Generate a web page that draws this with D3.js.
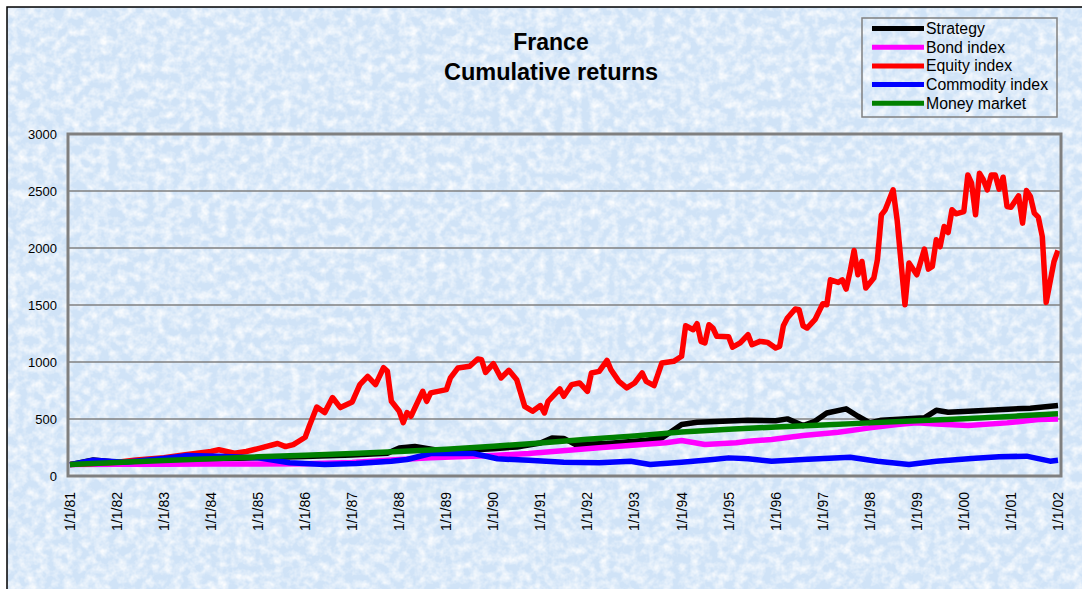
<!DOCTYPE html>
<html>
<head>
<meta charset="utf-8">
<script src="https://cdn.jsdelivr.net/npm/d3@7"></script>
<style>
body { margin: 0; background: #fff; }
svg { display: block; font-family: "Liberation Sans", Arial, sans-serif; }
</style>
</head>
<body>
<script>
width = 1082;
height = 589;
margin = { top: 134, right: 21, bottom: 113, left: 68 }

// series as [month, value]
var strategy = [
    ["1981-01",100],["1981-07",140],["1982-03",115],["1983-01",130],["1984-01",150],
    ["1985-01",160],["1986-01",170],["1987-01",185],["1987-10",200],["1988-01",245],
    ["1988-05",258],["1988-10",230],["1989-06",225],["1990-01",240],["1990-07",255],
    ["1991-01",290],["1991-04",334],["1991-07",330],["1991-10",276],["1992-06",285],
    ["1993-01",305],["1993-04",314],["1993-08",334],["1994-01",451],["1994-05",471],
    ["1995-06",489],["1996-01",485],["1996-04",501],["1996-08",442],["1996-11",480],
    ["1997-02",553],["1997-07",589],["1997-10",524],["1998-01",466],["1998-04",489],
    ["1999-03",510],["1999-06",576],["1999-09",559],["2000-06",575],["2001-06",595],
    ["2002-01",618]
];
var bond = [
    ["1981-01",100],["1982-01",102],["1983-01",104],["1984-01",106],["1985-01",105],
    ["1986-01",108],["1987-01",118],["1988-01",145],["1988-09",159],["1990-01",180],
    ["1990-10",197],["1992-04",247],["1993-09",291],["1994-01",311],["1994-07",276],
    ["1995-03",291],["1995-06",305],["1995-12",320],["1996-08",355],["1997-05",384],
    ["1998-01",422],["1998-08",451],["1999-01",466],["1999-06",457],["2000-02",442],
    ["2000-12",466],["2001-08",495],["2002-01",501]
];
var equity = [
    ["1981-01",100],["1981-07",110],["1982-01",120],["1982-06",140],["1983-01",160],
    ["1983-06",185],["1984-01",215],["1984-03",230],["1984-07",200],["1984-10",215],
    ["1985-01",240],["1985-06",285],["1985-08",258],["1985-10",276],["1986-01",340],
    ["1986-02",436],["1986-04",605],["1986-06",556],["1986-08",688],["1986-10",600],
    ["1987-01",650],["1987-03",802],["1987-05",874],["1987-07",802],["1987-09",950],
    ["1987-10",918],["1987-11",655],["1988-01",568],["1988-02",468],["1988-03",556],
    ["1988-04",524],["1988-07",743],["1988-08",655],["1988-09",729],["1989-01",758],
    ["1989-02",860],["1989-04",948],["1989-07",962],["1989-09",1027],["1989-10",1020],
    ["1989-11",909],["1990-01",985],["1990-03",860],["1990-05",927],["1990-07",845],
    ["1990-09",611],["1990-11",568],["1991-01",618],["1991-02",553],["1991-03",655],
    ["1991-06",764],["1991-07",699],["1991-09",802],["1991-11",816],["1992-01",743],
    ["1992-02",904],["1992-04",918],["1992-06",1014],["1992-07",933],["1992-09",830],
    ["1992-11",773],["1993-01",816],["1993-03",904],["1993-04",830],["1993-06",793],
    ["1993-08",992],["1993-11",1006],["1994-01",1050],["1994-02",1318],["1994-04",1283],
    ["1994-05",1336],["1994-06",1181],["1994-07",1167],["1994-08",1327],["1994-09",1298],
    ["1994-10",1225],["1995-01",1222],["1995-02",1130],["1995-04",1167],["1995-06",1240],
    ["1995-07",1152],["1995-09",1181],["1995-11",1172],["1996-01",1123],["1996-02",1137],
    ["1996-03",1318],["1996-04",1386],["1996-06",1465],["1996-07",1458],["1996-08",1318],
    ["1996-09",1298],["1996-11",1371],["1997-01",1511],["1997-02",1502],["1997-03",1721],
    ["1997-05",1698],["1997-06",1721],["1997-07",1640],["1997-08",1794],["1997-09",1978],
    ["1997-10",1765],["1997-11",1882],["1997-12",1649],["1998-02",1736],["1998-03",1897],
    ["1998-04",2291],["1998-05",2335],["1998-07",2510],["1998-08",2247],["1998-10",1502],
    ["1998-11",1868],["1999-01",1765],["1999-03",1990],["1999-04",1815],["1999-05",1838],
    ["1999-06",2072],["1999-07",2013],["1999-08",2188],["1999-09",2136],["1999-10",2335],
    ["1999-11",2300],["2000-01",2320],["2000-02",2641],["2000-03",2568],["2000-04",2291],
    ["2000-05",2656],["2000-06",2597],["2000-07",2510],["2000-08",2641],["2000-09",2641],
    ["2000-10",2516],["2000-11",2621],["2000-12",2364],["2001-01",2358],["2001-03",2457],
    ["2001-04",2218],["2001-05",2504],["2001-06",2451],["2001-07",2306],["2001-08",2271],
    ["2001-09",2101],["2001-10",1523],["2001-12",1882],["2002-01",1978]
];
var commodity = [
    ["1981-01",100],["1981-07",138],["1982-03",120],["1983-02",159],["1983-07",180],
    ["1984-03",174],["1985-01",159],["1985-09",116],["1986-06",101],["1987-02",110],
    ["1987-11",130],["1988-03",145],["1988-09",197],["1989-08",197],["1990-02",151],
    ["1990-10",138],["1991-07",121],["1992-04",116],["1992-12",130],["1993-05",101],
    ["1994-01",121],["1994-09",145],["1995-01",159],["1995-06",151],["1995-12",130],
    ["1996-08",145],["1997-08",165],["1998-03",130],["1998-11",101],["1999-06",130],
    ["2000-03",153],["2000-10",168],["2001-05",174],["2001-11",130],["2002-01",138]
];
var money = [
    ["1981-01",100],["1982-01",118],["1983-01",136],["1984-01",152],["1985-01",168],
    ["1986-01",182],["1987-01",198],["1988-01",215],["1989-01",235],["1990-01",262],
    ["1991-01",290],["1992-01",322],["1993-01",352],["1994-01",385],["1995-01",410],
    ["1996-01",430],["1997-01",447],["1998-01",466],["1999-01",485],["2000-01",503],
    ["2001-01",523],["2002-01",545]
];

var keys = ["Strategy","Bond index","Equity index","Commodity index","Money market"];
var colors = ["#000000","#ff00ff","#ff0000","#0000ff","#008000"];
var allSeries = [strategy, bond, equity, commodity, money];
var yTicks = [0,500,1000,1500,2000,2500,3000];
var xYears = d3.range(1981, 2003);

var parseMonth = d3.timeParse("%Y-%m");
var fmtTick = d3.timeFormat("%-m/%-d/%y");

var x = d3.scaleTime()
    .domain([new Date(1981,0,1), new Date(2002,0,1)])
    .range([margin.left + 2, width - margin.right - 3]);
var y = d3.scaleLinear()
    .domain([0, 3000])
    .range([height - margin.bottom, margin.top]);
var color = d3.scaleOrdinal().domain(keys).range(colors);

const svg = d3.select("body").append("svg")
    .attr("width", width)
    .attr("height", height);

// paper texture
var defs = svg.append("defs");
var filt = defs.append("filter").attr("id","tex")
    .attr("x",0).attr("y",0).attr("width","100%").attr("height","100%");
filt.append("feTurbulence")
    .attr("type","fractalNoise")
    .attr("baseFrequency","0.11")
    .attr("numOctaves",3)
    .attr("seed",11)
    .attr("result","noise");
filt.append("feColorMatrix")
    .attr("in","noise")
    .attr("type","matrix")
    .attr("values","0 0 0 0 1  0 0 0 0 1  0 0 0 0 1  1.7 0 0 0 -0.6");

svg.append("rect")
    .attr("x",7).attr("y",7)
    .attr("width",width+20).attr("height",height+20)
    .attr("fill","#d0e3f7")
    .attr("stroke","#000")
    .attr("stroke-width",1.5);
svg.append("rect")
    .attr("x",8).attr("y",8)
    .attr("width",width).attr("height",height)
    .attr("fill","#fff")
    .attr("filter","url(#tex)");

// grid
svg.append("g")
    .selectAll("line")
    .data(yTicks.slice(1, -1))
    .join("line")
    .attr("x1", margin.left).attr("x2", width - margin.right)
    .attr("y1", d => y(d)).attr("y2", d => y(d))
    .attr("stroke","#808080")
    .attr("stroke-width",1.5);

// y axis labels
svg.append("g")
    .selectAll("text")
    .data(yTicks)
    .join("text")
    .attr("x", 57)
    .attr("y", d => y(d))
    .attr("dy","0.35em")
    .attr("text-anchor","end")
    .style("font-size","13px")
    .text(d => d);

// x axis labels
svg.append("g")
    .selectAll("text")
    .data(xYears)
    .join("text")
    .attr("transform", d => "translate(" + x(new Date(d,0,1)) + ",492) rotate(-90)")
    .attr("dy","0.35em")
    .attr("text-anchor","end")
    .style("font-size","14px")
    .text(d => fmtTick(new Date(d,0,1)));

// lines
var line = d3.line()
    .x(d => x(parseMonth(d[0])))
    .y(d => y(d[1]));

svg.append("g")
    .selectAll("path")
    .data(allSeries)
    .join("path")
    .attr("fill","none")
    .attr("stroke", (d,i) => color(keys[i]))
    .attr("stroke-width",5.5)
    .attr("stroke-linejoin","round")
    .attr("d", line);

// plot border
svg.append("rect")
    .attr("x", margin.left).attr("y", margin.top)
    .attr("width", width - margin.left - margin.right)
    .attr("height", height - margin.top - margin.bottom)
    .attr("fill","none")
    .attr("stroke","#808080")
    .attr("stroke-width",3);

// TITLE
svg.append("text")
    .attr("x",551).attr("y",50)
    .attr("text-anchor","middle")
    .attr("font-weight","bold")
    .style("font-size","23px")
    .text("France");
svg.append("text")
    .attr("x",551).attr("y",80)
    .attr("text-anchor","middle")
    .attr("font-weight","bold")
    .style("font-size","23.5px")
    .text("Cumulative returns");

// legend
var lg = svg.append("g").attr("class","legend");
lg.append("rect")
    .attr("x",862).attr("y",18)
    .attr("width",195).attr("height",99)
    .attr("fill","none")
    .attr("stroke","#808080")
    .attr("stroke-width",1.5);
var rows = lg.selectAll("g")
    .data(keys)
    .join("g")
    .attr("transform",(d,i) => "translate(0," + (28.5 + i*18.7) + ")");
rows.append("line")
    .attr("x1",872).attr("x2",924)
    .attr("stroke", d => color(d))
    .attr("stroke-width",5);
rows.append("text")
    .attr("x",926)
    .attr("dy","0.35em")
    .style("font-size","15.8px")
    .text(d => d);
</script>
</body>
</html>
